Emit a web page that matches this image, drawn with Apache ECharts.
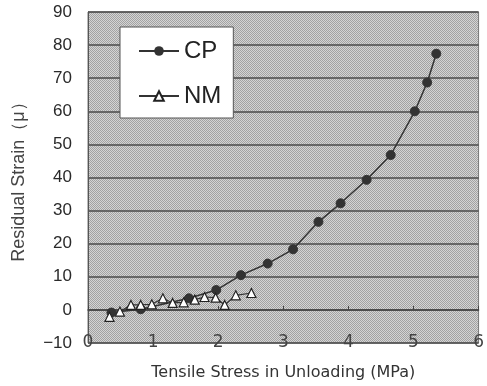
<!DOCTYPE html>
<html>
<head>
<meta charset="utf-8">
<script src="https://cdn.jsdelivr.net/npm/echarts@6/dist/echarts.min.js"></script>
<style>
  html, body { margin: 0; padding: 0; background: #fff; }
</style>
</head>
<body>
<div id="chart" style="width: 487px;height: 386px;"></div>
<script>
// CP: tensile stress (MPa), residual strain
var cpStress = [0.36, 0.81, 1.55, 1.97, 2.35, 2.76, 3.15, 3.54, 3.88, 4.28, 4.65, 5.02, 5.21, 5.35];
var cpStrain = [-0.8, 0.2, 3.5, 6.0, 10.5, 14.0, 18.3, 26.6, 32.2, 39.3, 46.8, 60.0, 68.7, 77.4];
// NM
var nmStress = [0.33, 0.49, 0.66, 0.81, 0.98, 1.15, 1.30, 1.47, 1.64, 1.79, 1.96, 2.10, 2.27, 2.51];
var nmStrain = [-2.1, -0.5, 1.5, 1.5, 1.7, 3.5, 2.1, 2.3, 3.1, 3.9, 3.7, 1.5, 4.4, 5.1];

var xTicks = [0, 1, 2, 3, 4, 5, 6];
var yTicks = [-10, 0, 10, 20, 30, 40, 50, 60, 70, 80, 90];

function pairs(xs, ys) {
	return xs.map(function(x, i) { return [x, ys[i]]; });
}

// stippled grey background of the plot area
var pat = document.createElement('canvas');
pat.width = 2;
pat.height = 2;
var pctx = pat.getContext('2d');
pctx.fillStyle = '#d4d4d4';
pctx.fillRect(0, 0, 2, 2);
pctx.fillStyle = '#a2a2a2';
pctx.fillRect(0, 0, 1, 1);
pctx.fillRect(1, 1, 1, 1);

var chart = echarts.init(document.getElementById('chart'));
chart.setOption({
	animation: false,
	grid: {
		left: 88,
		right: 4,
		top: 12,
		bottom: 43,
		show: true,
		backgroundColor: { image: pat, repeat: 'repeat' },
		borderColor: '#777',
		borderWidth: 1
	},
	legend: {
		orient: 'vertical',
		left: 120,
		top: 27,
		backgroundColor: '#fff',
		borderColor: '#555',
		borderWidth: 1,
		borderRadius: 0,
		padding: [12, 12, 10, 18],
		itemGap: 21,
		itemWidth: 40,
		itemHeight: 12,
		textStyle: { fontFamily: 'Liberation Sans, Arial', fontSize: 24, color: '#222' },
		data: ['CP', 'NM']
	},
	xAxis: [
		{
			type: 'value',
			min: 0,
			max: 6,
			interval: 1,
			name: 'Tensile Stress in Unloading (MPa)',
			nameLocation: 'middle',
			nameGap: 22,
			nameTextStyle: { fontFamily: 'DejaVu Sans', fontSize: 16, color: '#333' },
			axisLine: { show: false, onZero: false },
			axisTick: { show: false },
			splitLine: { show: false },
			axisLabel: {
				margin: -9,
				fontFamily: 'DejaVu Sans',
				fontSize: 17,
				color: '#444',
				customValues: xTicks
			}
		},
		{
			type: 'value',
			position: 'top',
			min: 0,
			max: 6,
			interval: 1,
			axisLine: { show: true, onZero: true, lineStyle: { color: '#444', width: 1.5 } },
			axisTick: { show: true, inside: false, length: 4, lineStyle: { color: '#444' } },
			axisLabel: { show: false },
			splitLine: { show: false }
		}
	],
	yAxis: {
		type: 'value',
		min: -10,
		max: 90,
		interval: 10,
		name: 'Residual Strain（μ）',
		nameLocation: 'middle',
		nameGap: 60,
		nameTextStyle: { fontFamily: 'Liberation Sans, Arial', fontSize: 18, color: '#444' },
		axisLine: { show: true, lineStyle: { color: '#555' } },
		axisTick: { show: false },
		axisLabel: {
			margin: 16,
			fontFamily: 'Liberation Sans, Arial',
			fontSize: 17,
			color: '#2a2a2a',
			customValues: yTicks,
			formatter: function(v) { return v < 0 ? '−' + Math.abs(v) : String(v); }
		},
		splitLine: { lineStyle: { color: '#4a4a4a', width: 1.5 } }
	},
	series: [
		{
			name: 'CP',
			type: 'line',
			data: pairs(cpStress, cpStrain),
			symbol: 'circle',
			symbolSize: 9,
			lineStyle: { color: '#333', width: 1.5 },
			itemStyle: { color: '#333', borderColor: '#333' },
			z: 3
		},
		{
			name: 'NM',
			type: 'line',
			data: pairs(nmStress, nmStrain),
			symbol: 'triangle',
			symbolSize: 9,
			showAllSymbol: true,
			lineStyle: { color: '#333', width: 1.2 },
			itemStyle: { color: '#fff', borderColor: '#222', borderWidth: 1.2 },
			z: 4
		}
	]
});
</script>
</body>
</html>
